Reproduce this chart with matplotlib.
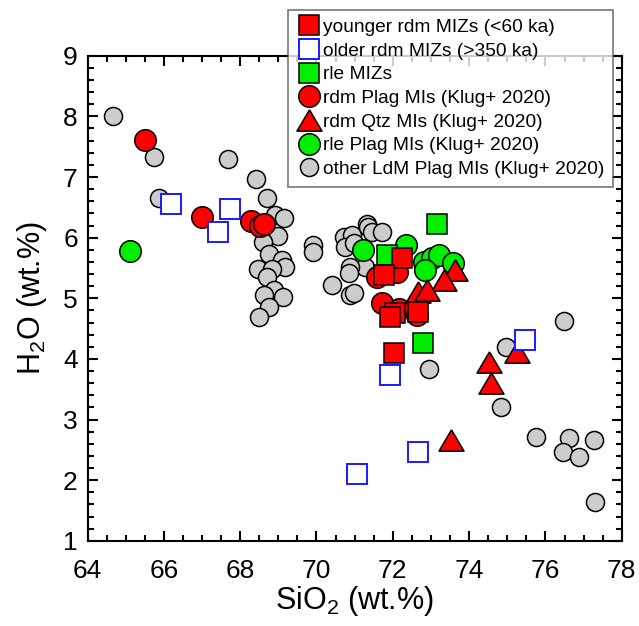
"""H2O vs SiO2 scatter of melt inclusions and MIZs."""

import matplotlib

matplotlib.use("Agg")
import matplotlib.pyplot as plt

plt.rcParams["font.family"] = ["Liberation Sans", "DejaVu Sans"]
plt.rcParams["mathtext.fontset"] = "custom"
plt.rcParams["mathtext.rm"] = "Liberation Sans"

# other LdM Plag MIs (Klug+ 2020)
other_sio2 = [64.67, 65.75, 65.87, 67.68, 68.41, 68.71, 68.92, 69.15, 68.98, 68.59,
              68.76, 69.09, 69.18, 68.48, 68.83, 68.71, 68.89, 68.63, 69.13, 68.76,
              68.50, 69.90, 69.90, 70.40, 70.71, 70.93, 71.32, 71.36, 71.45, 71.71,
              70.75, 70.97, 71.27, 70.88, 70.86, 70.88, 70.97, 72.94, 76.48, 74.97,
              74.83, 75.76, 76.62, 76.45, 76.89, 77.28, 77.31]
other_h2o = [8.00, 7.33, 6.66, 7.29, 6.96, 6.65, 6.37, 6.32, 6.03, 5.92,
             5.73, 5.63, 5.51, 5.48, 5.48, 5.35, 5.13, 5.05, 5.02, 4.86,
             4.69, 5.88, 5.77, 5.22, 6.01, 6.04, 6.23, 6.18, 6.10, 6.10,
             5.85, 5.91, 5.52, 5.52, 5.41, 5.05, 5.08, 3.83, 4.63, 4.20,
             3.20, 2.71, 2.69, 2.47, 2.39, 2.67, 1.64]

# rle Plag MIs (Klug+ 2020)
rle_plag_sio2 = [65.11, 71.23, 72.35, 72.81, 73.02, 73.20, 72.85, 73.59]
rle_plag_h2o = [5.78, 5.80, 5.88, 5.60, 5.66, 5.71, 5.46, 5.58]

# rdm Qtz MIs (Klug+ 2020)
rdm_qtz_sio2 = [73.64, 73.33, 72.67, 72.89, 74.51, 74.57, 75.25, 73.53]
rdm_qtz_h2o = [5.47, 5.30, 5.11, 5.14, 3.95, 3.60, 4.12, 2.66]

# rdm Plag MIs (Klug+ 2020)
rdm_plag_sio2 = [65.51, 67.00, 68.28, 68.52, 68.62, 71.58, 72.11, 71.71, 72.15, 72.63]
rdm_plag_h2o = [7.61, 6.34, 6.27, 6.20, 6.22, 5.35, 5.44, 4.92, 4.83, 4.72]

# rle MIZs
rle_miz_sio2 = [73.16, 71.85, 72.78]
rle_miz_h2o = [6.22, 5.71, 4.27]

# older rdm MIZs (>350 ka)
old_miz_sio2 = [66.18, 67.41, 67.74, 71.06, 72.65, 71.93, 75.47]
old_miz_h2o = [6.55, 6.09, 6.48, 2.10, 2.46, 3.74, 4.31]

# younger rdm MIZs (<60 ka)
young_miz_sio2 = [72.24, 71.76, 72.05, 71.92, 72.67, 72.04]
young_miz_h2o = [5.66, 5.38, 4.75, 4.69, 4.78, 4.09]

tri = [(0, 0.85), (-1, -0.85), (1, -0.85), (0, 0.85)]

fig = plt.figure(figsize=(6.39, 6.26), dpi=100)
ax = fig.add_axes([0.137, 0.136, 0.836, 0.775])

kw = dict(linestyle="none", markeredgecolor="black", markeredgewidth=1.1)
h_other, = ax.plot(other_sio2, other_h2o, marker="o", markersize=13,
                   markerfacecolor="#cccccc", label="other LdM Plag MIs (Klug+ 2020)", **kw)
h_rlep, = ax.plot(rle_plag_sio2, rle_plag_h2o, marker="o", markersize=15.5,
                  markerfacecolor="#00ee00", label="rle Plag MIs (Klug+ 2020)", **kw)
h_rdmp, = ax.plot(rdm_plag_sio2, rdm_plag_h2o, marker="o", markersize=15.5,
                  markerfacecolor="#ff0000", label="rdm Plag MIs (Klug+ 2020)", **kw)
h_qtz, = ax.plot(rdm_qtz_sio2, rdm_qtz_h2o, marker=tri, markersize=18,
                 markerfacecolor="#ff0000", label="rdm Qtz MIs (Klug+ 2020)", **kw)
h_rlem, = ax.plot(rle_miz_sio2, rle_miz_h2o, marker="s", markersize=14.5,
                  markerfacecolor="#00ee00", label="rle MIZs", **kw)
h_old, = ax.plot(old_miz_sio2, old_miz_h2o, marker="s", markersize=15, linestyle="none",
                 markerfacecolor="white", markeredgecolor="#1a1aff", markeredgewidth=1.4,
                 label="older rdm MIZs (>350 ka)")
h_young, = ax.plot(young_miz_sio2, young_miz_h2o, marker="s", markersize=14.5,
                   markerfacecolor="#ff0000", label="younger rdm MIZs (<60 ka)", **kw)

ax.set_xlim(64, 78)
ax.set_ylim(1, 9)
ax.set_xticks(range(64, 79, 2))
ax.set_yticks(range(1, 10))
ax.set_xticks([64 + 0.5 * i for i in range(29)], minor=True)
ax.set_yticks([1 + 0.2 * i for i in range(41)], minor=True)
ax.tick_params(which="both", direction="in", top=True, right=True, width=1.5, labelsize=19)
ax.tick_params(which="major", length=7)
ax.tick_params(axis="x", which="major", pad=13)
ax.tick_params(axis="y", which="major", pad=7)
ax.tick_params(which="minor", length=4)
for s in ax.spines.values():
    s.set_linewidth(1.5)

ax.set_xlabel("SiO$_2$ (wt.%)", fontsize=22, labelpad=1)
ax.set_ylabel("H$_2$O (wt.%)", fontsize=22, labelpad=10)

handles = [h_young, h_old, h_rlem, h_rdmp, h_qtz, h_rlep, h_other]
leg = fig.legend(handles=handles, loc="upper right", bbox_to_anchor=(0.96, 0.984),
                 fontsize=13.75, frameon=True, fancybox=False, borderpad=0.45,
                 handletextpad=0.1, handlelength=1.3, labelspacing=0.33,
                 borderaxespad=0)
leg.get_frame().set_edgecolor("#555555")
leg.get_frame().set_linewidth(1.2)

fig.savefig("out.png", dpi=100)
